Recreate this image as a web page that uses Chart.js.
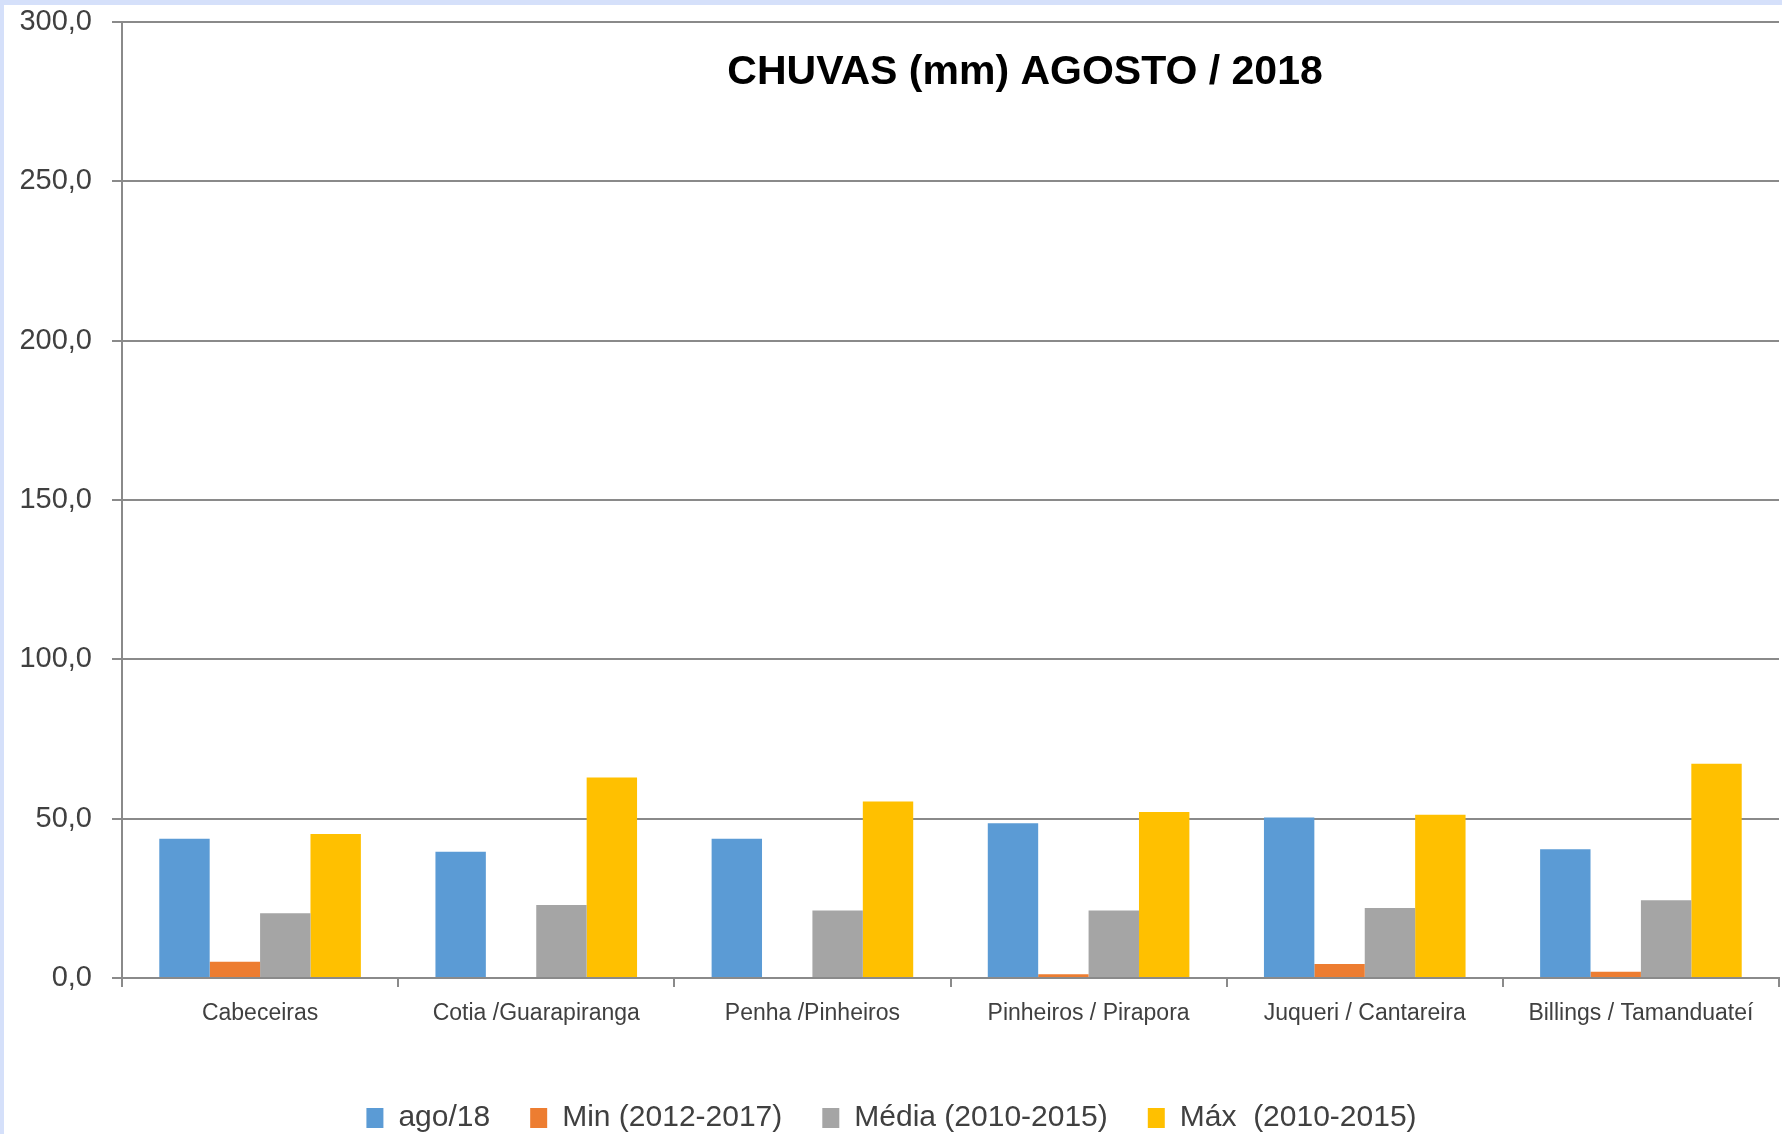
<!DOCTYPE html>
<html>
<head>
<meta charset="utf-8">
<script src="https://cdn.jsdelivr.net/npm/chart.js@4"></script>
<style>
  html, body { margin: 0; padding: 0; overflow: hidden; }
  body { width: 1782px; height: 1134px; background: #d5e0fa; position: relative; }
  #wrap { position: absolute; left: 4px; top: 5px; width: 1778px; height: 1138px; background: #fff; }
</style>
</head>
<body>
<div id="wrap"><canvas id="rainChart" width="1778" height="1138"></canvas></div>
<script>
// Chuvas agosto 2018
const regions = ["Cabeceiras", "Cotia /Guarapiranga", "Penha /Pinheiros", "Pinheiros / Pirapora", "Juqueri / Cantareira", "Billings / Tamanduateí"];
const ago18 = [43.7, 39.6, 43.7, 48.6, 50.4, 40.4];
const minimo = [5.1, 0, 0, 1.2, 4.4, 2.0];
const media = [20.3, 22.9, 21.2, 21.2, 22.0, 24.4];
const maximo = [45.2, 62.9, 55.4, 52.1, 51.2, 67.2];
const seriesNames = ["ago/18", "Min (2012-2017)", "Média (2010-2015)", "Máx  (2010-2015)"];
const yTicks = [0, 50, 100, 150, 200, 250, 300];
const chartTitle = "CHUVAS (mm) AGOSTO / 2018";

const axisGray = "#8a8a8a";
const textGray = "#404040";

// title sits inside the plot area, like in the excel chart
const innerTitle = {
  id: "innerTitle",
  afterDraw(chart) {
    const { ctx, chartArea } = chart;
    ctx.save();
    ctx.font = "bold 41px 'Liberation Sans'";
    ctx.fillStyle = "#000";
    ctx.textAlign = "center";
    ctx.textBaseline = "middle";
    ctx.fillText(chartTitle, chartArea.left + 0.545 * (chartArea.right - chartArea.left), 68);
    ctx.restore();
  },
};

const ctx = document.getElementById("rainChart").getContext("2d");
const rainChart = new Chart(ctx, {
  type: "bar",
  data: {
    labels: regions,
    datasets: [
      { label: seriesNames[0], data: ago18, backgroundColor: "#5b9bd5" },
      { label: seriesNames[1], data: minimo, backgroundColor: "#ed7d31" },
      { label: seriesNames[2], data: media, backgroundColor: "#a5a5a5" },
      { label: seriesNames[3], data: maximo, backgroundColor: "#ffc000" },
    ],
  },
  options: {
    responsive: false,
    animation: false,
    datasets: { bar: { categoryPercentage: 0.73, barPercentage: 1.0, borderWidth: 0 } },
    layout: { padding: { top: 17, right: 3, left: 0, bottom: 0 } },
    plugins: {
      title: { display: false },
      tooltip: { enabled: false },
      legend: {
        position: "bottom",
        labels: {
          boxWidth: 17,
          boxHeight: 20,
          padding: 40,
          color: textGray,
          font: { family: "'Liberation Sans'", size: 30 },
        },
      },
    },
    scales: {
      x: {
        grid: { display: true, drawOnChartArea: false, drawTicks: true, tickLength: 9, color: axisGray, lineWidth: 2 },
        border: { display: true, color: axisGray, width: 2 },
        ticks: { color: textGray, font: { family: "'Liberation Sans'", size: 23 }, padding: 13, maxRotation: 0 },
        afterFit(scale) { scale.height = 85; },
      },
      y: {
        min: 0,
        max: 300,
        afterBuildTicks(scale) { scale.ticks = yTicks.map(v => ({ value: v })); },
        grid: { color: axisGray, lineWidth: 2, tickLength: 10 },
        border: { display: true, color: axisGray, width: 2 },
        ticks: {
          color: textGray,
          font: { family: "'Liberation Sans'", size: 29 },
          padding: 20,
          callback: v => v.toFixed(1).replace(".", ","),
        },
        afterFit(scale) {
          scale.width = 118;
          scale.paddingTop = 0;
          scale.paddingBottom = 0;
        },
      },
    },
  },
  plugins: [innerTitle],
});
</script>
</body>
</html>
